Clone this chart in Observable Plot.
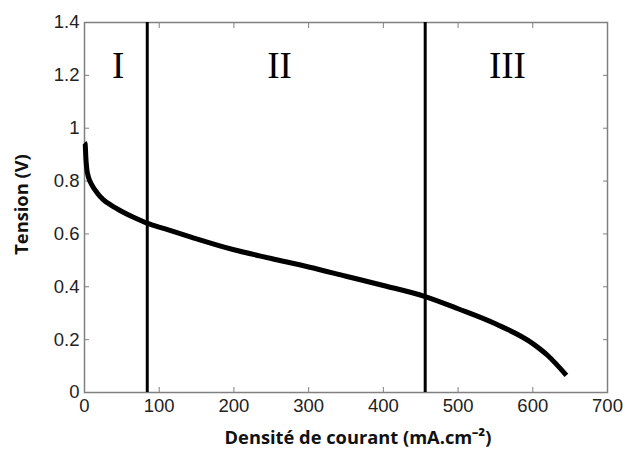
<!DOCTYPE html>
<html>
<head>
<meta charset="utf-8">
<script src="https://cdn.jsdelivr.net/npm/d3@7"></script>
<script src="https://cdn.jsdelivr.net/npm/@observablehq/plot@0.6"></script>
<style>
  html, body { margin: 0; padding: 0; background: #fff; }
  svg { display: block; }
</style>
</head>
<body>
<div id="chart"></div>
<script>
// Current density (mA/cm²) and voltage (V)
const density = [0, 0.9, 1.8, 3.1, 5.4, 9.8, 16.5, 25.4, 36.5, 50, 67.8, 83.4, 108, 143.6, 200, 250, 300, 350, 400, 456, 500, 550, 600, 620, 645];
const tension = [0.945, 0.94, 0.889, 0.845, 0.814, 0.786, 0.757, 0.729, 0.707, 0.685, 0.660, 0.641, 0.619, 0.587, 0.54, 0.507, 0.475, 0.44, 0.405, 0.363, 0.317, 0.26, 0.185, 0.14, 0.065];

// Region boundaries
const boundaries = [84, 456];

// Region labels
const regionNames = ["I", "II", "III"];
const regionX = [45, 261, 566];
const regionY = [1.233, 1.233, 1.233];

const xTicks = [0, 100, 200, 300, 400, 500, 600, 700];
const yTicks = [0, 0.2, 0.4, 0.6, 0.8, 1, 1.2, 1.4];

const xLabel = "Densité de courant (mA.cm⁻²)";
const yLabel = "Tension (V)";

const curve = density.map((d, i) => ({x: d, y: tension[i]}));
const regions = regionNames.map((n, i) => ({n, x: regionX[i], y: regionY[i]}));

const tickColor = "#808080";
const labelFont = "Liberation Sans, Arial, sans-serif";

const chart = Plot.plot({
  width: 623,
  height: 451,
  marginLeft: 84,
  marginRight: 16,
  marginTop: 22,
  marginBottom: 59,
  style: {background: "#fff", overflow: "visible"},
  x: {domain: [0, 700]},
  y: {domain: [0, 1.4]},
  marks: [
    Plot.frame({stroke: tickColor, strokeWidth: 1.5}),
    // inward ticks on all four sides
    Plot.axisX(xTicks, {anchor: "bottom", tickSize: -5, stroke: tickColor, tickFormat: () => "", label: null}),
    Plot.axisX(xTicks, {anchor: "top", tickSize: -5, stroke: tickColor, tickFormat: () => "", label: null}),
    Plot.axisY(yTicks, {anchor: "left", tickSize: -5, stroke: tickColor, tickFormat: () => "", label: null}),
    Plot.axisY(yTicks, {anchor: "right", tickSize: -5, stroke: tickColor, tickFormat: () => "", label: null}),
    // tick labels
    Plot.axisX(xTicks, {anchor: "bottom", tickSize: 0, tickPadding: 6, fontSize: 18.5, fontFamily: labelFont, fill: "#222", label: null, tickFormat: d3.format("d")}),
    Plot.axisY(yTicks, {anchor: "left", tickSize: 0, tickPadding: 5, fontSize: 18.5, fontFamily: labelFont, fill: "#222", label: null, tickFormat: d => String(+d.toFixed(1))}),
    // region boundaries
    Plot.ruleX(boundaries, {stroke: "#000", strokeWidth: 3}),
    // polarization curve
    Plot.line(curve, {x: "x", y: "y", stroke: "#000", strokeWidth: 5, curve: "monotone-x", strokeLinecap: "butt"}),
    // region names
    Plot.text(regions, {x: "x", y: "y", text: "n", fontSize: 37, fontFamily: "Liberation Serif, Times New Roman, serif", fill: "#000"}),
    // axis titles
    Plot.text([xLabel], {frameAnchor: "bottom", textAnchor: "middle", lineAnchor: "middle", dx: 12, dy: 46, fontSize: 18.3, fontWeight: "bold", fontFamily: "Open Sans, sans-serif", fill: "#111"}),
    Plot.text([yLabel], {frameAnchor: "left", textAnchor: "middle", lineAnchor: "middle", rotate: -90, dx: -62, dy: -3, fontSize: 18.3, fontWeight: "bold", fontFamily: "Open Sans, sans-serif", fill: "#111"})
  ]
});

document.getElementById("chart").appendChild(chart);
</script>
</body>
</html>
